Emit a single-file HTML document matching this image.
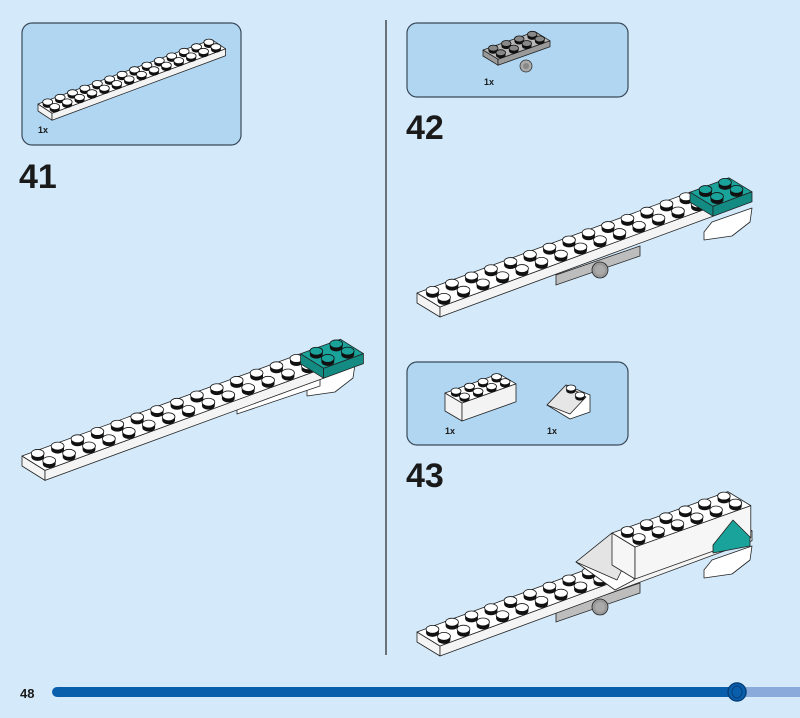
<!DOCTYPE html>
<html><head><meta charset="utf-8"><style>
html,body{margin:0;padding:0;background:#d4eafa;}
body{width:800px;height:718px;overflow:hidden;position:relative;font-family:"Liberation Sans",sans-serif;}
svg{position:absolute;left:0;top:0;}
</style></head><body>
<svg id="s" width="800" height="718" xmlns="http://www.w3.org/2000/svg">
<rect width="800" height="718" fill="#d4eafa"/>
<rect x="22" y="23" width="219" height="122" rx="10" fill="#b0d6f2" stroke="#3a4a5a" stroke-width="1.2"/>
<rect x="407" y="23" width="221" height="74" rx="10" fill="#b0d6f2" stroke="#3a4a5a" stroke-width="1.2"/>
<rect x="407" y="362" width="221" height="83" rx="10" fill="#b0d6f2" stroke="#3a4a5a" stroke-width="1.2"/>
<line x1="386" y1="20" x2="386" y2="655" stroke="#222" stroke-width="1.2"/>
<g font-family="Liberation Sans,sans-serif" font-weight="bold" fill="#1a1a1a">
<text x="38" y="133" font-size="9">1x</text>
<text x="484" y="85" font-size="9">1x</text>
<text x="445" y="434" font-size="9">1x</text>
<text x="547" y="434" font-size="9">1x</text>
<text x="19" y="188" font-size="34">41</text>
<text x="406" y="139" font-size="34">42</text>
<text x="406" y="487" font-size="34">43</text>
<text x="20" y="698" font-size="13">48</text>
</g>
<line x1="742" y1="692" x2="800" y2="692" stroke="#8aaadc" stroke-width="10"/>
<line x1="57" y1="692" x2="737" y2="692" stroke="#0a5fad" stroke-width="10" stroke-linecap="round"/>
<ellipse cx="737" cy="692" rx="9" ry="9" fill="#0a5fad" stroke="#06407a" stroke-width="1.5"/>
<ellipse cx="737" cy="692" rx="5" ry="6" fill="none" stroke="#06407a" stroke-width="1"/>
<g id="g"></g>
</svg>
<script>
var g=document.getElementById('g'),out='';
function P(a){return a.map(function(p){return p[0].toFixed(1)+','+p[1].toFixed(1)}).join(' ')}
function poly(a,f){out+='<polygon points="'+P(a)+'" fill="'+f+'" stroke="#222" stroke-width="0.8" stroke-linejoin="round"/>';}
function stud(x,y,r,f){var ry=r*0.62,d=r*0.55;
out+='<path d="M'+(x-r)+','+y+' L'+(x-r)+','+(y+d)+' A'+r+','+ry+' 0 0 0 '+(x+r)+','+(y+d)+' L'+(x+r)+','+y+' Z" fill="#111"/>';
out+='<ellipse cx="'+x+'" cy="'+y+'" rx="'+r+'" ry="'+ry+'" fill="'+(f||'#fff')+'" stroke="#111" stroke-width="0.8"/>';}
function box(o,u,v,L,W,h,top,side,studs,sf,r){
 var A=o,B=[o[0]+u[0]*L,o[1]+u[1]*L],D=[o[0]+v[0]*W,o[1]+v[1]*W],C=[B[0]+v[0]*W,B[1]+v[1]*W];
 poly([A,D,[D[0],D[1]+h],[A[0],A[1]+h]],side);
 poly([D,C,[C[0],C[1]+h],[D[0],D[1]+h]],side);
 poly([A,B,C,D],top);
 if(studs)for(var j=0;j<W;j++)for(var i=0;i<L;i++){
  var x=o[0]+u[0]*(i+.5)+v[0]*(j+.5),y=o[1]+u[1]*(i+.5)+v[1]*(j+.5);stud(x,y-r*0.4,r,sf);}
}
function plate(o,u,v,L,h,r,teal){
 var sub=teal?2:0;
 box(o,u,v,L-sub,2,h,'#fff','#f4f4f4',true,'#fff',r);
 if(teal){var o2=[o[0]+u[0]*(L-2),o[1]+u[1]*(L-2)];box(o2,u,v,2,2,h,'#1aa39a','#138a82',true,'#1aa39a',r);}
}
function wedge(x,y){poly([[x,y],[x+40,y-14],[x+38,y],[x+20,y+14],[x-8,y+18],[x-8,y+10]],'#fff');}
// Step 41 part
box([38,104],[12.4,-4.6],[7,4.6],14,2,7,'#fff','#f3f3f3',true,'#fff',5);
// Step 41 model
wedge(315,378);
out+='<polygon points="237,406 320,378 320,386 237,414" fill="#fff" stroke="#222" stroke-width="0.8"/>';
plate([22,456],[19.9,-7.3],[11.5,7.2],16,10,6.4,true);
// Step 42 part
box([483,50],[13,-4.6],[7.5,4.6],4,2,6,'#b8b8b8','#9a9a9a',true,'#888',4.8);
out+='<circle cx="526" cy="66" r="6" fill="#aaa" stroke="#333" stroke-width="0.8"/><circle cx="526" cy="66" r="3" fill="#888"/>';
// Step 42 model
out+='<polygon points="556,275 640,246 640,256 556,285" fill="#bdbdbd" stroke="#222" stroke-width="0.8"/>';
out+='<circle cx="600" cy="270" r="8" fill="#999" stroke="#222" stroke-width="0.8"/><circle cx="600" cy="270" r="5" fill="#aaa"/>';
wedge(712,222);
plate([417,293],[19.5,-7.2],[11.5,7],16,10,6.4,true);
// Step 43 parts
box([445,393],[13.5,-4.8],[8.5,5],4,2,18,'#fff','#f3f3f3',true,'#fff',5);
poly([[547,405],[566,385],[590,395],[590,412],[570,419]],'#fff');
poly([[547,405],[566,385],[586,397],[570,414]],'#e6e6e6');
stud(571,388,4.8); stud(580,395,4.8);
// Step 43 model
out+='<polygon points="556,612 640,583 640,593 556,622" fill="#bdbdbd" stroke="#222" stroke-width="0.8"/>';
out+='<circle cx="600" cy="607" r="8" fill="#999" stroke="#222" stroke-width="0.8"/><circle cx="600" cy="607" r="5" fill="#aaa"/>';
wedge(712,560);
plate([417,632],[19.5,-7.2],[11.5,7],16,10,6.4,false);
poly([[576,562],[612,533],[652,530],[634,563],[634,580],[615,590]],'#fff');
poly([[576,562],[612,533],[634,545],[617,580]],'#e4e4e4');
box([612,533],[19.3,-6.9],[11.5,7],6,2,32,'#fff','#f6f6f6',true,'#fff',6.3);
poly([[733,520],[750,537],[750,546],[713,553],[713,545]],'#1aa39a');
g.innerHTML=out;
</script>
</body></html>
